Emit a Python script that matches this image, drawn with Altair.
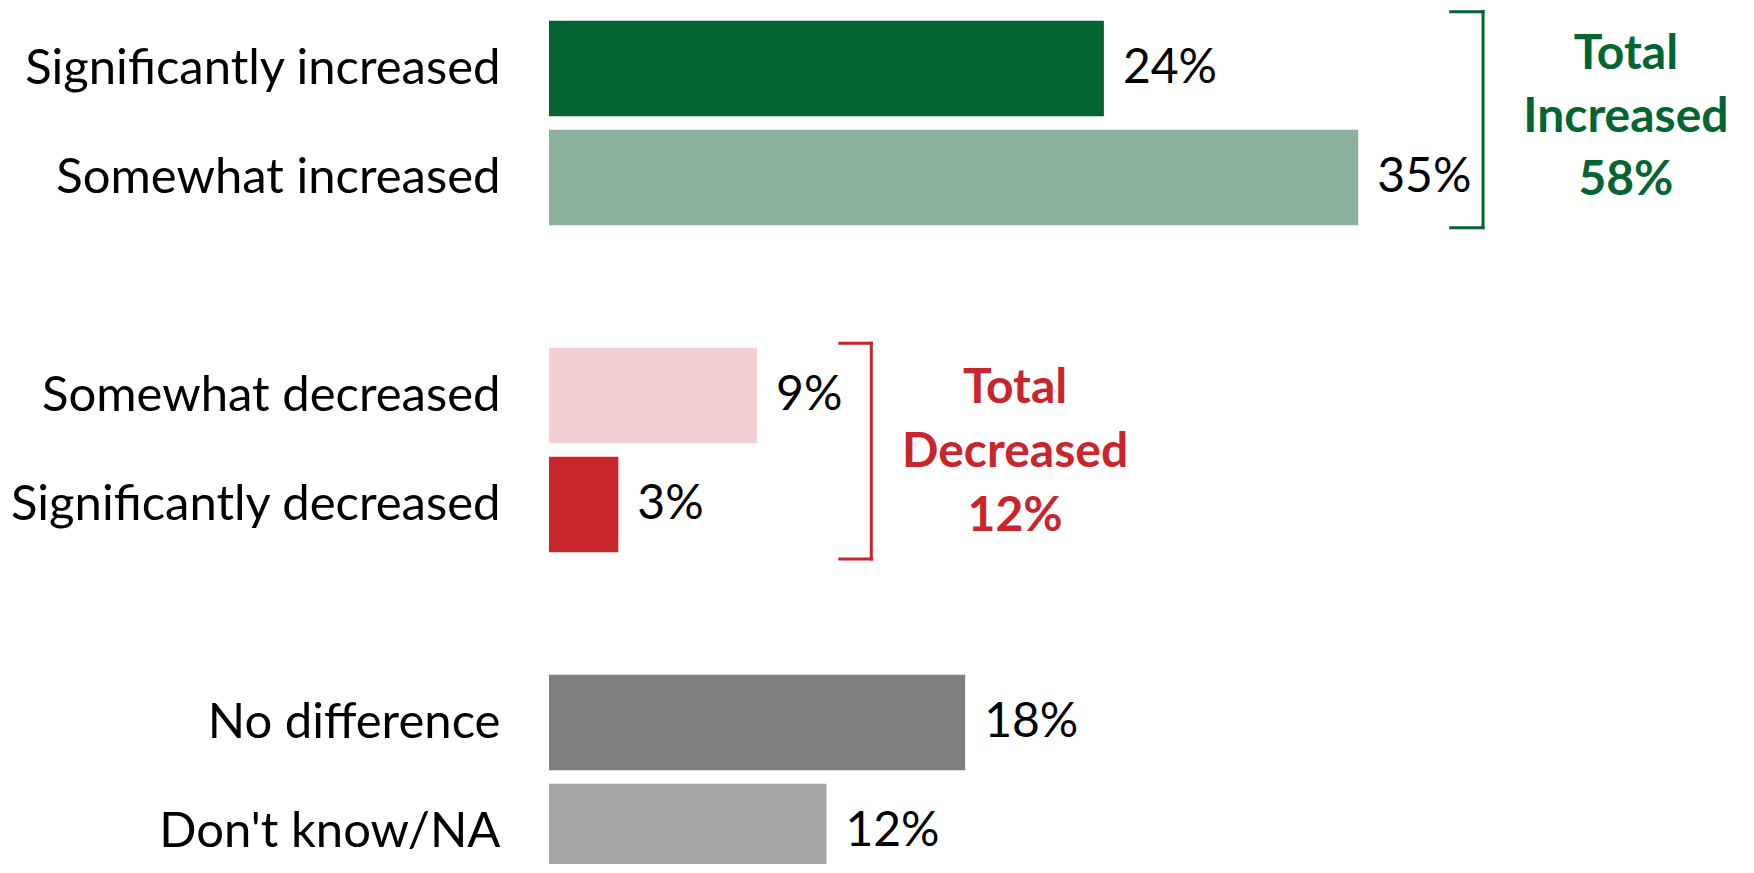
import json
import altair as alt
import pandas as pd

# ---- data ----
categories = ["Significantly increased", "Somewhat increased",
              "Somewhat decreased", "Significantly decreased",
              "No difference", "Don't know/NA"]
rows = [0, 1, 3, 4, 6, 7]
values = [24, 35, 9, 3, 18, 12]
bar_colors = ["#046532", "#8BB09C", "#F4D0D4", "#C9252D", "#7F7F7F", "#A6A6A6"]

total_labels = [["Total", "Increased", "58%"], ["Total", "Decreased", "12%"]]
total_colors = ["#046532", "#C9252D"]

# ---- annotation geometry (in data units) ----
bracket_x = [40.4, 13.94]
bracket_tick_x = [39.0, 12.58]
bracket_y0 = [-0.52, 2.52]
bracket_y1 = [1.46, 4.50]
total_x = [46.58, 20.16]
total_y = [[0.0, 0.587, 1.165], [3.07, 3.66, 4.24]]

FONT = "Lato"
FS = 48
W, H = 1196, 846
XMAX = W / 23.12

df = pd.DataFrame({"category": categories, "row": rows, "value": values,
                   "label": [f"{v}%" for v in values]})

xs = alt.Scale(domain=[0, XMAX], nice=False, zero=True)
ys = alt.Scale(domain=[-0.5, -0.5 + H / 109.0], reverse=True, nice=False, zero=False)

label_expr = ("[" + ",".join(json.dumps(c) for c in categories) + "][indexof("
              + json.dumps(rows) + ", datum.value)]")

y_axis = alt.Axis(
    values=rows, labelExpr=label_expr, ticks=False, domain=False, grid=False,
    labelPadding=49, labelFontSize=49, labelFont=FONT, labelColor="black",
    labelOverlap=False, labelBaseline="middle", labelAlign="right", labelLimit=1000,
    title=None)

base = alt.Chart(df)

bars = base.transform_calculate(
    y0="datum.row - 0.4375", y1="datum.row + 0.4375"
).mark_bar(clip=False).encode(
    x=alt.X("value:Q", scale=xs, axis=None),
    x2=alt.datum(0),
    y=alt.Y("y0:Q", scale=ys, axis=y_axis),
    y2="y1:Q",
    color=alt.Color("category:N", scale=alt.Scale(domain=categories, range=bar_colors), legend=None),
)

value_text = base.mark_text(align="left", baseline="middle", dx=19, font=FONT,
                            fontSize=FS, color="black").encode(
    x=alt.X("value:Q", scale=xs, axis=None),
    y=alt.Y("row:Q", scale=ys, axis=y_axis),
    text="label:N",
)

seg = []
for i in range(2):
    c = total_colors[i]
    seg.append(dict(x=bracket_x[i], x2=bracket_x[i], y=bracket_y0[i], y2=bracket_y1[i], c=c))
    seg.append(dict(x=bracket_tick_x[i], x2=bracket_x[i], y=bracket_y0[i], y2=bracket_y0[i], c=c))
    seg.append(dict(x=bracket_tick_x[i], x2=bracket_x[i], y=bracket_y1[i], y2=bracket_y1[i], c=c))
seg_df = pd.DataFrame(seg)

brackets = alt.Chart(seg_df).mark_rule(strokeWidth=3, strokeCap="square").encode(
    x=alt.X("x:Q", scale=xs, axis=None), x2="x2:Q",
    y=alt.Y("y:Q", scale=ys, axis=y_axis), y2="y2:Q",
    color=alt.Color("c:N", scale=None),
)

tt = []
for i in range(2):
    for j, t in enumerate(total_labels[i]):
        tt.append(dict(x=total_x[i], y=total_y[i][j], t=t, c=total_colors[i]))
tt_df = pd.DataFrame(tt)

totals = alt.Chart(tt_df).mark_text(align="center", baseline="alphabetic", font=FONT,
                                    fontSize=FS, fontWeight="bold").encode(
    x=alt.X("x:Q", scale=xs, axis=None),
    y=alt.Y("y:Q", scale=ys, axis=y_axis),
    text="t:N",
    color=alt.Color("c:N", scale=None),
)

chart = alt.layer(bars, value_text, brackets, totals).properties(
    width=W, height=H,
    background="white",
    autosize=alt.AutoSizeParams(type="none"),
    padding={"left": 541, "top": 6, "right": 0, "bottom": 4},
).configure_view(stroke=None)

chart.save("out.html", embed_options={"renderer": "svg", "actions": False})
